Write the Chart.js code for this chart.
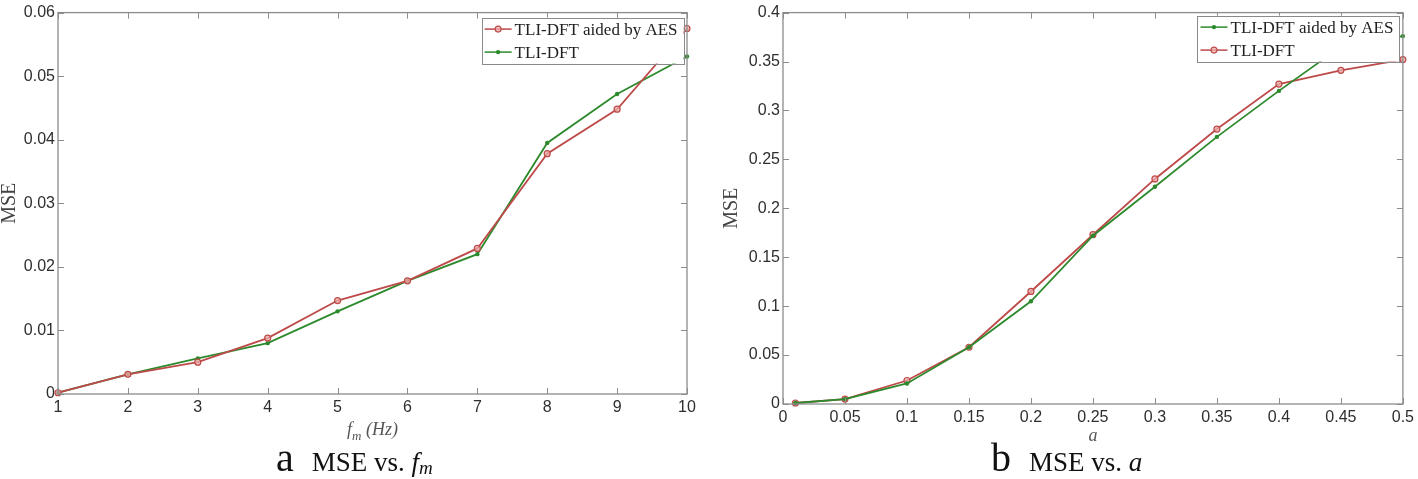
<!DOCTYPE html>
<html><head><meta charset="utf-8">
<script src="https://cdn.jsdelivr.net/npm/chart.js@4.4.0/dist/chart.umd.min.js"></script>
<style>
html,body{margin:0;padding:0;background:#fff;}
#wrap{position:relative;width:1418px;height:479px;overflow:hidden;background:#fff;}
canvas{position:absolute;top:0;}
#cA{left:0;} #cB{left:700px;}
.cap{position:absolute;top:438px;font-family:'Liberation Serif',serif;font-size:40px;line-height:40px;color:#111;white-space:nowrap;}
.cap .t{font-size:27px;margin-left:18px;}
.cap i{font-style:italic;}
.cap sub{font-size:19px;vertical-align:-3px;line-height:0;}
</style></head>
<body><div id="wrap">
<canvas id="cA" width="700" height="445"></canvas>
<canvas id="cB" width="718" height="445"></canvas>
<div class="cap" style="left:276px">a<span class="t">MSE vs. <i>f<sub>m</sub></i></span></div>
<div class="cap" style="left:991px">b<span class="t">MSE vs. <i>a</i></span></div>
</div>
<script>
// ---- Chart a: MSE vs f_m ----
const fmValues = [1, 2, 3, 4, 5, 6, 7, 8, 9, 10];
const mseAidedFm = [0.0002, 0.0031, 0.0050, 0.0088, 0.0147, 0.0178, 0.0229, 0.0378, 0.0448, 0.0575];
const mseTliFm   = [0.0002, 0.0031, 0.0056, 0.0080, 0.0130, 0.0178, 0.0220, 0.0395, 0.0472, 0.0531];
const xTicksA = [1, 2, 3, 4, 5, 6, 7, 8, 9, 10];
const xTickLabelsA = ['1', '2', '3', '4', '5', '6', '7', '8', '9', '10'];
const yTicksA = [0, 0.01, 0.02, 0.03, 0.04, 0.05, 0.06];
const yTickLabelsA = ['0', '0.01', '0.02', '0.03', '0.04', '0.05', '0.06'];

// ---- Chart b: MSE vs a ----
const aValues = [0.01, 0.05, 0.1, 0.15, 0.2, 0.25, 0.3, 0.35, 0.4, 0.45, 0.5];
const mseAidedA = [0.001, 0.005, 0.021, 0.058, 0.105, 0.172, 0.222, 0.273, 0.320, 0.365, 0.376];
const mseTliA   = [0.001, 0.005, 0.024, 0.058, 0.115, 0.173, 0.230, 0.281, 0.327, 0.341, 0.352];
const xTicksB = [0, 0.05, 0.1, 0.15, 0.2, 0.25, 0.3, 0.35, 0.4, 0.45, 0.5];
const xTickLabelsB = ['0', '0.05', '0.1', '0.15', '0.2', '0.25', '0.3', '0.35', '0.4', '0.45', '0.5'];
const yTicksB = [0, 0.05, 0.1, 0.15, 0.2, 0.25, 0.3, 0.35, 0.4];
const yTickLabelsB = ['0', '0.05', '0.1', '0.15', '0.2', '0.25', '0.3', '0.35', '0.4'];

const nameAided = 'TLI-DFT aided by AES';
const nameTli = 'TLI-DFT';
const yTitle = 'MSE';

const RED = '#bd4a49';
const GREEN = '#2c8a2c';
const TICK_COLOR = '#2e2e2e';
const FRAME = '#8c8c8c';

function makeDataset(label, xs, ys, color, kind) {
  const circle = kind === 'circle';
  return {
    label,
    data: xs.map((x, i) => ({x, y: ys[i]})),
    borderColor: color,
    borderWidth: 1.8,
    pointRadius: circle ? 3.0 : 2.2,
    pointBorderWidth: circle ? 1.2 : 0,
    pointBackgroundColor: circle ? 'rgba(236,172,170,0.75)' : color,
    pointBorderColor: color,
    pointHoverRadius: 0,
    tension: 0,
    fill: false,
    clip: false,
    _kind: kind
  };
}

const matFrame = {
  id: 'matFrame',
  afterDraw(chart, args, opts) {
    const ctx = chart.ctx, ca = chart.chartArea;
    const xs = chart.scales.x, ys = chart.scales.y;
    ctx.save();
    ctx.strokeStyle = FRAME; ctx.lineWidth = 1;
    ctx.beginPath();
    xs.ticks.forEach(t => {
      const px = Math.round(xs.getPixelForValue(t.value)) + 0.5;
      ctx.moveTo(px, ca.bottom); ctx.lineTo(px, ca.bottom - 6);
      ctx.moveTo(px, ca.top); ctx.lineTo(px, ca.top + 6);
    });
    ys.ticks.forEach(t => {
      const py = Math.round(ys.getPixelForValue(t.value)) + 0.5;
      ctx.moveTo(ca.left, py); ctx.lineTo(ca.left + 6, py);
      ctx.moveTo(ca.right, py); ctx.lineTo(ca.right - 6, py);
    });
    ctx.stroke();
    ctx.lineWidth = 1.3;
    ctx.strokeRect(ca.left, ca.top, ca.right - ca.left, ca.bottom - ca.top);

    // legend
    const items = chart.data.datasets;
    ctx.font = '17px "Liberation Serif"';
    let tw = 0;
    items.forEach(d => { tw = Math.max(tw, ctx.measureText(d.label).width); });
    const boxW = 3 + 27 + 3 + tw + 6, boxH = 46;
    const right = ca.right - 3.5, top = ca.top + opts.legendTop;
    const left = right - boxW;
    ctx.fillStyle = '#fff';
    ctx.fillRect(left, top, boxW, boxH);
    ctx.strokeStyle = '#8a8a8a'; ctx.lineWidth = 1;
    ctx.strokeRect(Math.round(left) + 0.5, Math.round(top) + 0.5, Math.round(boxW), boxH);
    items.forEach((d, i) => {
      const y = top + 11.5 + i * 23;
      ctx.strokeStyle = d.borderColor; ctx.lineWidth = 1.5;
      ctx.beginPath(); ctx.moveTo(left + 3, y); ctx.lineTo(left + 30, y); ctx.stroke();
      ctx.beginPath();
      if (d._kind === 'circle') {
        ctx.arc(left + 16.5, y, 3.0, 0, Math.PI * 2);
        ctx.fillStyle = d.pointBackgroundColor; ctx.fill();
        ctx.lineWidth = 1.1; ctx.stroke();
      } else {
        ctx.arc(left + 16.5, y, 2.2, 0, Math.PI * 2);
        ctx.fillStyle = d.borderColor; ctx.fill();
      }
      ctx.fillStyle = '#222';
      ctx.textBaseline = 'middle'; ctx.textAlign = 'left';
      ctx.fillText(d.label, left + 33, y + 1);
    });

    // x-axis title (with subscript support)
    const parts = opts.xTitle;
    let total = 0;
    parts.forEach(p => { ctx.font = 'italic ' + p.size + 'px "Liberation Serif"'; p.w = ctx.measureText(p.t).width; total += p.w; });
    let x = (ca.left + ca.right) / 2 - total / 2;
    ctx.fillStyle = '#555'; ctx.textBaseline = 'alphabetic'; ctx.textAlign = 'left';
    parts.forEach(p => {
      ctx.font = 'italic ' + p.size + 'px "Liberation Serif"';
      ctx.fillText(p.t, x, opts.xTitleBaseline + (p.dy || 0));
      x += p.w;
    });
    ctx.restore();
  }
};

function buildScales(xT, xL, yT, yL, yAxisWidth, xAxisHeight, yTitlePad) {
  const tickFont = {family: 'Liberation Sans', size: 16};
  return {
    x: {
      type: 'linear', min: xT[0], max: xT[xT.length - 1],
      afterBuildTicks: s => { s.ticks = xT.map(v => ({value: v})); },
      ticks: {callback: (v, i) => xL[i], font: tickFont, color: TICK_COLOR, padding: 4, maxRotation: 0, autoSkip: false},
      grid: {display: false, drawTicks: false},
      border: {display: false},
      afterFit: s => { s.height = xAxisHeight; }
    },
    y: {
      type: 'linear', min: yT[0], max: yT[yT.length - 1],
      afterBuildTicks: s => { s.ticks = yT.map(v => ({value: v})); },
      ticks: {callback: (v, i) => yL[i], font: tickFont, color: TICK_COLOR, padding: 3, autoSkip: false},
      grid: {display: false, drawTicks: false},
      border: {display: false},
      title: {display: true, text: yTitle, font: {family: 'Liberation Serif', size: 20, lineHeight: 1}, color: '#444', padding: {top: yTitlePad, bottom: 0}},
      afterFit: s => { s.width = yAxisWidth; }
    }
  };
}

const baseOpts = {
  responsive: false,
  animation: false,
  devicePixelRatio: 1,
  events: []
};

new Chart(document.getElementById('cA'), {
  type: 'line',
  data: {
    datasets: [
      makeDataset(nameAided, fmValues, mseAidedFm, RED, 'circle'),
      makeDataset(nameTli, fmValues, mseTliFm, GREEN, 'dot')
    ]
  },
  options: Object.assign({}, baseOpts, {
    layout: {autoPadding: false, padding: {left: 0, top: 7, right: 13, bottom: 0}},
    scales: buildScales(xTicksA, xTickLabelsA, yTicksA, yTickLabelsA, 58, 51, 0),
    plugins: {
      legend: {display: false}, tooltip: {enabled: false},
      matFrame: {legendTop: 5, xTitleBaseline: 435,
        xTitle: [{t: 'f', size: 18}, {t: 'm', size: 13, dy: 5}, {t: ' (Hz)', size: 18}]}
    }
  }),
  plugins: [matFrame]
});

new Chart(document.getElementById('cB'), {
  type: 'line',
  data: {
    datasets: [
      makeDataset(nameAided, aValues, mseAidedA, GREEN, 'dot'),
      makeDataset(nameTli, aValues, mseTliA, RED, 'circle')
    ]
  },
  options: Object.assign({}, baseOpts, {
    layout: {autoPadding: false, padding: {left: 0, top: 9, right: 12, bottom: 0}},
    scales: buildScales(xTicksB, xTickLabelsB, yTicksB, yTickLabelsB, 83, 41, 22),
    plugins: {
      legend: {display: false}, tooltip: {enabled: false},
      matFrame: {legendTop: 3, xTitleBaseline: 441,
        xTitle: [{t: 'a', size: 18}]}
    }
  }),
  plugins: [matFrame]
});
</script>
</body></html>
